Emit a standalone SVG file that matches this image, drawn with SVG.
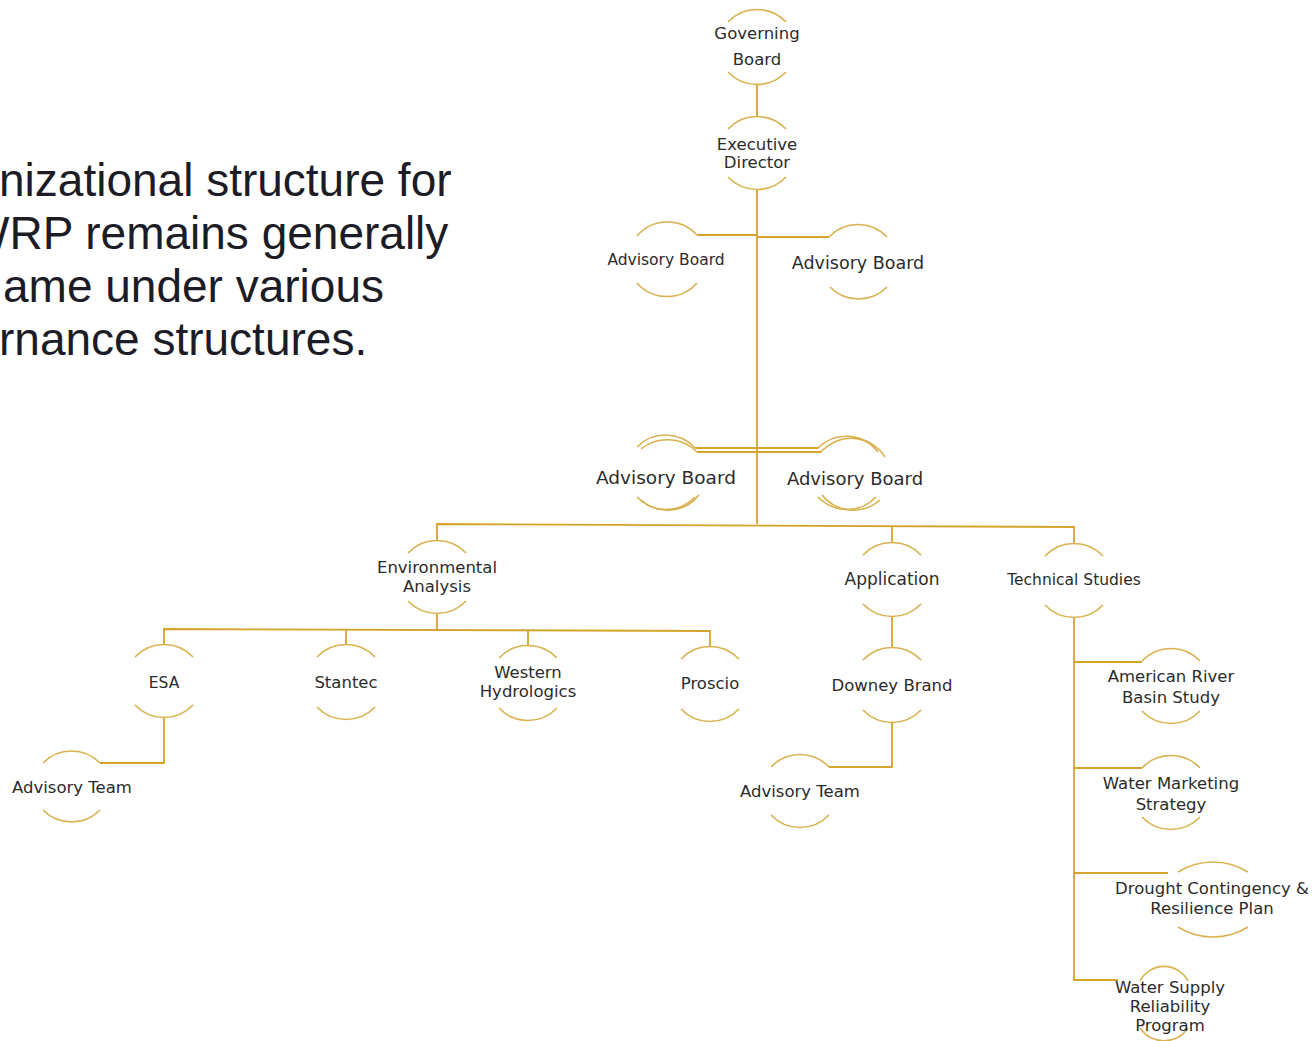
<svg xmlns="http://www.w3.org/2000/svg" width="1316" height="1041" viewBox="0 0 1316 1041">
<style>
.arc{fill:none;stroke:#d9b14e;stroke-width:1.6}
.ln{fill:none;stroke:#d4a42a;stroke-width:1.8}
.t{font-family:"DejaVu Sans",sans-serif;fill:#2b2b2b;text-anchor:middle;font-size:16.5px}
.big{font-family:"Liberation Sans",Arial,sans-serif;font-size:46px;fill:#1c1c26}
</style>
<rect width="1316" height="1041" fill="#ffffff"/>
<g id="intro">
<text class="big" x="-1" y="196">nizational structure for</text>
<text class="big" x="-34" y="249">WRP remains generally</text>
<text class="big" x="3" y="302">ame under various</text>
<text class="big" x="-1" y="355">rnance structures.</text>
</g>
<g id="connectors">
<path class="ln" d="M757,84 V117"/>
<path class="ln" d="M757,190 V524"/>
<path class="ln" d="M697,235 H757"/>
<path class="ln" d="M757,237 H829"/>
<path class="ln" d="M695,448 H818"/>
<path class="ln" d="M697,452 H821"/>
<path class="ln" d="M437,540 V524 L1074,527 V543"/>
<path class="ln" d="M892,526 V542"/>
<path class="ln" d="M437,614 V630"/>
<path class="ln" d="M164,645 V629 L710,631 V647"/>
<path class="ln" d="M346,630 V645"/>
<path class="ln" d="M528,630 V646"/>
<path class="ln" d="M164,718 V763 H100"/>
<path class="ln" d="M892,617 V648"/>
<path class="ln" d="M892,723 V767 H829"/>
<path class="ln" d="M1074,618 V980 H1118"/>
<path class="ln" d="M1074,662 H1142"/>
<path class="ln" d="M1074,768 H1142"/>
<path class="ln" d="M1074,873 H1168"/>
</g>
<g id="governing-board">
<path class="arc" d="M728,22 A40,40 0 0 1 786,22"/>
<path class="arc" d="M728,72 A40,40 0 0 0 786,72"/>
<text class="t" x="757" y="39">Governing</text>
<text class="t" x="757" y="65">Board</text>
</g>
<g id="executive-director">
<path class="arc" d="M728,129 A40,40 0 0 1 786,129"/>
<path class="arc" d="M728,177 A40,40 0 0 0 786,177"/>
<text class="t" x="757" y="150">Executive</text>
<text class="t" x="757" y="168">Director</text>
</g>
<g id="advisory-board-1">
<path class="arc" d="M637,236 A40,40 0 0 1 697,235"/>
<path class="arc" d="M637,283 A40,40 0 0 0 697,283"/>
<text class="t" x="666" y="265" style="font-size:15.5px">Advisory Board</text>
</g>
<g id="advisory-board-2">
<path class="arc" d="M829,237 A40,40 0 0 1 887,237"/>
<path class="arc" d="M830,287 A40,40 0 0 0 887,287"/>
<text class="t" x="858" y="269" style="font-size:17.5px">Advisory Board</text>
</g>
<g id="advisory-board-3">
<path class="arc" d="M637,447 A40,40 0 0 1 695,448"/>
<path class="arc" d="M641,449 A42,42 0 0 1 697,452"/>
<path class="arc" d="M637,497 A40,40 0 0 0 695,497"/>
<path class="arc" d="M641,500 A40,40 0 0 0 699,495"/>
<text class="t" x="666" y="484" style="font-size:18.5px">Advisory Board</text>
</g>
<g id="advisory-board-4">
<path class="arc" d="M818,448 A40,40 0 0 1 878,452"/>
<path class="arc" d="M821,452 A40,40 0 0 1 885,457"/>
<path class="arc" d="M818,497 A40,40 0 0 0 876,497"/>
<path class="arc" d="M822,495 A40,40 0 0 0 880,500"/>
<text class="t" x="855" y="485" style="font-size:18px">Advisory Board</text>
</g>
<g id="environmental-analysis">
<path class="arc" d="M408,553 A40,40 0 0 1 466,553"/>
<path class="arc" d="M408,601 A40,40 0 0 0 466,601"/>
<text class="t" x="437" y="573">Environmental</text>
<text class="t" x="437" y="592">Analysis</text>
</g>
<g id="application">
<path class="arc" d="M863,555 A40,40 0 0 1 921,555"/>
<path class="arc" d="M863,604 A40,40 0 0 0 921,604"/>
<text class="t" x="892" y="585" style="font-size:17px">Application</text>
</g>
<g id="technical-studies">
<path class="arc" d="M1045,556 A40,40 0 0 1 1103,556"/>
<path class="arc" d="M1045,605 A40,40 0 0 0 1103,605"/>
<text class="t" x="1074" y="585" style="font-size:15.5px">Technical Studies</text>
</g>
<g id="esa">
<path class="arc" d="M135,657 A40,40 0 0 1 193,657"/>
<path class="arc" d="M135,705 A40,40 0 0 0 193,705"/>
<text class="t" x="164" y="688" style="font-size:15.5px">ESA</text>
</g>
<g id="stantec">
<path class="arc" d="M317,657 A40,40 0 0 1 375,657"/>
<path class="arc" d="M317,707 A40,40 0 0 0 375,707"/>
<text class="t" x="346" y="688">Stantec</text>
</g>
<g id="western-hydrologics">
<path class="arc" d="M499,658 A40,40 0 0 1 557,658"/>
<path class="arc" d="M499,708 A40,40 0 0 0 557,708"/>
<text class="t" x="528" y="678">Western</text>
<text class="t" x="528" y="697">Hydrologics</text>
</g>
<g id="proscio">
<path class="arc" d="M681,659 A40,40 0 0 1 739,659"/>
<path class="arc" d="M681,709 A40,40 0 0 0 739,709"/>
<text class="t" x="710" y="689">Proscio</text>
</g>
<g id="advisory-team-1">
<path class="arc" d="M43,763 A40,40 0 0 1 100,763"/>
<path class="arc" d="M43,810 A40,40 0 0 0 100,810"/>
<text class="t" x="72" y="793">Advisory Team</text>
</g>
<g id="downey-brand">
<path class="arc" d="M863,660 A40,40 0 0 1 921,660"/>
<path class="arc" d="M863,710 A40,40 0 0 0 921,710"/>
<text class="t" x="892" y="691">Downey Brand</text>
</g>
<g id="advisory-team-2">
<path class="arc" d="M771,767 A40,40 0 0 1 829,767"/>
<path class="arc" d="M771,815 A40,40 0 0 0 829,815"/>
<text class="t" x="800" y="797">Advisory Team</text>
</g>
<g id="american-river">
<path class="arc" d="M1142,661 A40,40 0 0 1 1200,661"/>
<path class="arc" d="M1142,711 A40,40 0 0 0 1200,711"/>
<text class="t" x="1171" y="682">American River</text>
<text class="t" x="1171" y="703">Basin Study</text>
</g>
<g id="water-marketing">
<path class="arc" d="M1142,768 A40,40 0 0 1 1200,768"/>
<path class="arc" d="M1142,817 A40,40 0 0 0 1200,817"/>
<text class="t" x="1171" y="789">Water Marketing</text>
<text class="t" x="1171" y="810">Strategy</text>
</g>
<g id="drought-contingency">
<path class="arc" d="M1178,872 A66,66 0 0 1 1248,872"/>
<path class="arc" d="M1178,927 A66,66 0 0 0 1248,927"/>
<text class="t" x="1212" y="894">Drought Contingency &amp;</text>
<text class="t" x="1212" y="914">Resilience Plan</text>
</g>
<g id="water-supply">
<path class="arc" d="M1140,981 A27,27 0 0 1 1188,981"/>
<path class="arc" d="M1140,1028 A29,29 0 0 0 1188,1028"/>
<text class="t" x="1170" y="993">Water Supply</text>
<text class="t" x="1170" y="1012">Reliability</text>
<text class="t" x="1170" y="1031">Program</text>
</g>
</svg>
